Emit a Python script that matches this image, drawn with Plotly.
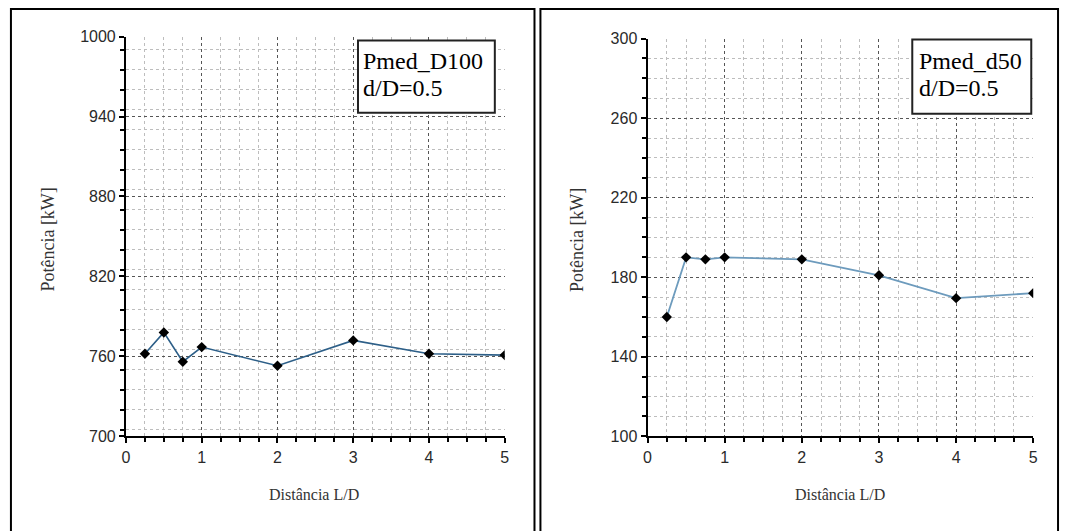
import plotly.graph_objects as go

# Distance ratio L/D (shared by both series)
dist_ld = [0.25, 0.5, 0.75, 1, 2, 3, 4, 5]

# Mean power [kW]
pmed_D100 = [762, 778, 756, 767, 753, 772, 762, 761]
pmed_d50 = [160, 190, 189, 190, 189, 181, 169.5, 172]

W, H = 1067, 531
# vertical placement: page rows are laid out with a small top offset and scale
Y0, KY = 9.5, 0.966


def px(x):
    return x / W


def py(y):
    yy = (y - Y0) / KY
    return 1 - yy / H


fig = go.Figure()

fig.add_trace(go.Scatter(
    x=dist_ld, y=pmed_D100, mode="lines+markers",
    line=dict(color="#2d5f88", width=1.6),
    marker=dict(symbol="diamond", size=8, color="black"),
    xaxis="x", yaxis="y", showlegend=False,
))
fig.add_trace(go.Scatter(
    x=dist_ld, y=pmed_d50, mode="lines+markers",
    line=dict(color="#6d9bbd", width=1.8),
    marker=dict(symbol="diamond", size=8, color="black"),
    xaxis="x2", yaxis="y2", showlegend=False,
))

tick_font = dict(family="Liberation Sans, Arial, sans-serif", size=16, color="#2a2a2a")
serif = "Liberation Serif, Times New Roman, serif"


def xaxis_cfg(domain, anchor):
    return dict(
        domain=domain, anchor=anchor, range=[0, 5], dtick=1, tick0=0,
        showline=True, linecolor="black", linewidth=2, mirror=False,
        ticks="outside", ticklen=5, tickwidth=1.5, tickcolor="black",
        tickfont=tick_font, zeroline=False,
        showgrid=True, gridcolor="#555555", griddash="dot", gridwidth=1,
        minor=dict(dtick=0.25, showgrid=True, gridcolor="#bdbdbd", griddash="dot",
                   ticks="outside", ticklen=4, tickcolor="black", tickwidth=1.5),
        fixedrange=True,
    )


def yaxis_cfg(domain, anchor, rng, dt, mdt):
    return dict(
        domain=domain, anchor=anchor, range=rng, dtick=dt, tick0=rng[0],
        showline=True, linecolor="black", linewidth=2, mirror=False,
        ticks="outside", ticklen=5, tickwidth=1.5, tickcolor="black",
        tickfont=tick_font, zeroline=False,
        showgrid=True, gridcolor="#555555", griddash="dot", gridwidth=1,
        minor=dict(dtick=mdt, showgrid=True, gridcolor="#bdbdbd", griddash="dot",
                   ticks="outside", ticklen=4, tickcolor="black", tickwidth=1.5),
        fixedrange=True,
    )


fig.update_layout(
    width=W, height=H,
    margin=dict(l=0, r=0, t=0, b=0),
    paper_bgcolor="white", plot_bgcolor="white",
    xaxis=xaxis_cfg([px(123), px(505)], "y"),
    yaxis=yaxis_cfg([py(437), py(38)], "x", [700, 1000], 60, 15),
    xaxis2=xaxis_cfg([px(649), px(1038)], "y2"),
    yaxis2=yaxis_cfg([py(437), py(40)], "x2", [100, 300], 40, 10),
)

shapes = [
    # panel frames
    dict(type="rect", xref="paper", yref="paper",
         x0=px(7), x1=px(535), y0=-0.05, y1=1 - 1 / H,
         line=dict(color="black", width=2)),
    dict(type="rect", xref="paper", yref="paper",
         x0=px(541), x1=px(1063), y0=-0.05, y1=1 - 1 / H,
         line=dict(color="black", width=2)),
    # label boxes
    dict(type="rect", xref="paper", yref="paper",
         x0=px(357), x1=px(495), y0=py(114), y1=py(42),
         line=dict(color="#222222", width=2), fillcolor="white"),
    dict(type="rect", xref="paper", yref="paper",
         x0=px(916), x1=px(1036), y0=py(115), y1=py(41),
         line=dict(color="#222222", width=2), fillcolor="white"),
]
fig.update_layout(shapes=shapes)

box_font = dict(family=serif, size=24, color="black")
ytitle_font = dict(family=serif, size=18, color="#333333")
xtitle_font = dict(family=serif, size=16, color="#333333")

annotations = [
    dict(text="Pmed_D100", x=px(360), y=py(62), xanchor="left", yanchor="middle", font=box_font),
    dict(text="d/D=0.5", x=px(360), y=py(89), xanchor="left", yanchor="middle", font=box_font),
    dict(text="Pmed_d50", x=px(921), y=py(62), xanchor="left", yanchor="middle", font=box_font),
    dict(text="d/D=0.5", x=px(921), y=py(89), xanchor="left", yanchor="middle", font=box_font),
    dict(text="Potência [kW]", x=px(44), y=py(241), textangle=-90,
         xanchor="center", yanchor="middle", font=ytitle_font),
    dict(text="Distância L/D", x=px(313), y=py(495),
         xanchor="center", yanchor="middle", font=xtitle_font),
    dict(text="Potência [kW]", x=px(578), y=py(241), textangle=-90,
         xanchor="center", yanchor="middle", font=ytitle_font),
    dict(text="Distância L/D", x=px(843), y=py(495),
         xanchor="center", yanchor="middle", font=xtitle_font),
]
for a in annotations:
    a.update(xref="paper", yref="paper", showarrow=False)
fig.update_layout(annotations=annotations)

fig.write_html("out.html", config=dict(displayModeBar=False))
